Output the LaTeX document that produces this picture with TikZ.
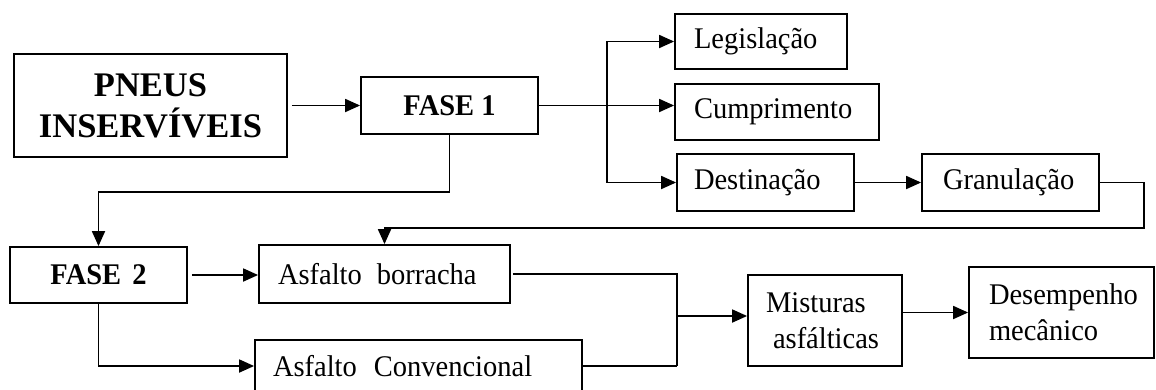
\documentclass[tikz,border=0pt]{standalone}
\usepackage{fontspec}
\setmainfont{Liberation Serif}[FakeStretch=0.95]
\newfontfamily\plainserif{Liberation Serif}
\usetikzlibrary{arrows.meta}
\begin{document}
\begin{tikzpicture}[x=1pt,y=-1pt,line width=1.8pt,
  box/.style={draw,rectangle,inner sep=0pt,line width=1.8pt},
  body/.style={font=\fontsize{30}{36}\selectfont},
  cbox/.style={box,align=center},
  lbox/.style 2 args={box,body,inner xsep=#1,text width=#2,align=left},
  arr/.style={-{Triangle[length=15pt,width=13pt]},line width=1.8pt}]
\useasboundingbox (0,0) rectangle (1156,389);
% nodes
\node[cbox,minimum width=273,minimum height=103,font=\plainserif\bfseries\fontsize{34.5}{41}\selectfont] (pneus) at (150.5,105.5) {PNEUS\\INSERVÍVEIS};
\node[cbox,minimum width=177,minimum height=57,font=\bfseries\fontsize{30}{34}\selectfont] (fase1) at (449.5,105.5) {FASE 1};
\node[lbox={19pt}{134pt},minimum width=172,minimum height=55] (leg) at (761,41.5) {Legislação};
\node[lbox={19pt}{166pt},minimum width=204,minimum height=56] (cump) at (777,112) {Cumprimento};
\node[lbox={17pt}{143pt},minimum width=177,minimum height=57] (dest) at (765.5,182.5) {Destinação};
\node[lbox={21pt}{135pt},minimum width=177,minimum height=57] (gran) at (1010.5,182.5) {Granulação};
\node[cbox,minimum width=177,minimum height=56,font=\bfseries\fontsize{30}{34}\selectfont] (fase2) at (98.5,275) {FASE\hspace{4pt} 2};
\node[lbox={19pt}{213pt},minimum width=251,minimum height=58] (borr) at (384.5,274) {Asfalto\hspace{5pt} borracha};
\node[lbox={18pt}{291pt},minimum width=327,minimum height=52] (conv) at (418.5,366) {Asfalto\hspace{7pt} Convencional};
\node[lbox={18pt}{118pt},minimum width=154,minimum height=91] (mist) at (825,320.5) {Misturas\\\hspace*{7pt}asfálticas};
\node[lbox={20pt}{145pt},minimum width=185,minimum height=91] (des) at (1061.5,312.5) {Desempenho\\mecânico};
% connectors
\draw[arr,shorten <=4pt] (pneus) -- (fase1);
\coordinate (bx) at (607,105.5);
\draw[arr] (fase1.east) -- (fase1.east -| cump.west);
\draw[arr] (bx) |- (leg.west);
\draw[arr] (bx) |- (dest.west);
\draw[arr] (fase1.south) -- ++(0,57) -| (fase2.north);
\draw[arr,shorten <=4pt] (fase2.east) -- (fase2.east -| borr.west);
\draw[arr] (fase2.south) |- (conv.west);
\draw[arr] (dest) -- (gran);
\coordinate (r1) at (1144,228);
\draw[arr] (gran.east) -| (r1) -| (borr.north);
\coordinate (jx) at (677,366);
\draw[shorten <=2pt] (borr.east) -| (jx);
\draw (conv.east) -- (jx);
\coordinate (jm) at (677,316);
\draw[arr] (jm) -- (jm -| mist.west);
\draw[arr] (mist.east |- des.west) -- (des.west);
\end{tikzpicture}
\end{document}
